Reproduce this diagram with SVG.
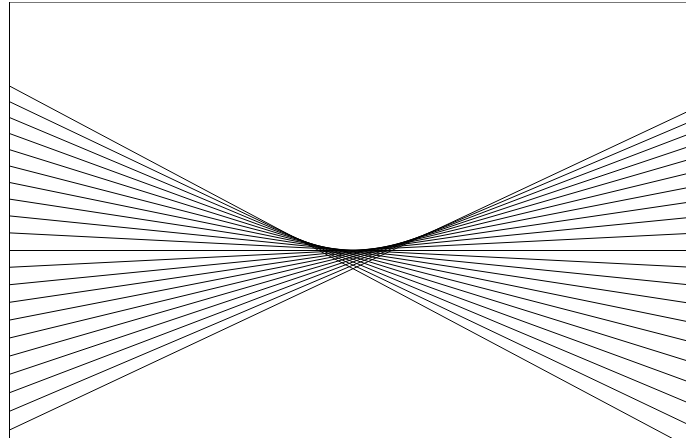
<svg xmlns="http://www.w3.org/2000/svg" width="686" height="438" viewBox="0 0 686 438">
<style>
.ln{stroke:#000;stroke-width:1;fill:none}
.ax{stroke:#000;stroke-width:1;fill:none}
.top{stroke:#777;stroke-width:1;fill:none}
</style>
<rect width="686" height="438" fill="#fff"/>
<g id="frame">
<line class="top" x1="9" y1="2.5" x2="686" y2="2.5"/>
<line class="ax" x1="9.5" y1="2" x2="9.5" y2="438"/>
</g>
<g id="lines">
<line class="ln" x1="9.5" y1="86" x2="686" y2="445.7"/>
<line class="ln" x1="9.5" y1="101.68" x2="686" y2="423.49"/>
<line class="ln" x1="9.5" y1="117.52" x2="686" y2="401.92"/>
<line class="ln" x1="9.5" y1="133.52" x2="686" y2="380.9"/>
<line class="ln" x1="9.5" y1="149.68" x2="686" y2="360.46"/>
<line class="ln" x1="9.5" y1="166" x2="686" y2="340.6"/>
<line class="ln" x1="9.5" y1="182.48" x2="686" y2="321.32"/>
<line class="ln" x1="9.5" y1="199.12" x2="686" y2="302.62"/>
<line class="ln" x1="9.5" y1="215.92" x2="686" y2="284.5"/>
<line class="ln" x1="9.5" y1="232.88" x2="686" y2="266.96"/>
<line class="ln" x1="9.5" y1="250.5" x2="686" y2="250.5"/>
<line class="ln" x1="9.5" y1="267.28" x2="686" y2="233.62"/>
<line class="ln" x1="9.5" y1="284.72" x2="686" y2="217.82"/>
<line class="ln" x1="9.5" y1="302.32" x2="686" y2="202.6"/>
<line class="ln" x1="9.5" y1="320.08" x2="686" y2="187.96"/>
<line class="ln" x1="9.5" y1="338" x2="686" y2="173.9"/>
<line class="ln" x1="9.5" y1="356.08" x2="686" y2="160.42"/>
<line class="ln" x1="9.5" y1="374.32" x2="686" y2="147.52"/>
<line class="ln" x1="9.5" y1="392.72" x2="686" y2="135.2"/>
<line class="ln" x1="9.5" y1="411.28" x2="686" y2="123.46"/>
<line class="ln" x1="9.5" y1="430" x2="686" y2="112.3"/>
</g>
</svg>
